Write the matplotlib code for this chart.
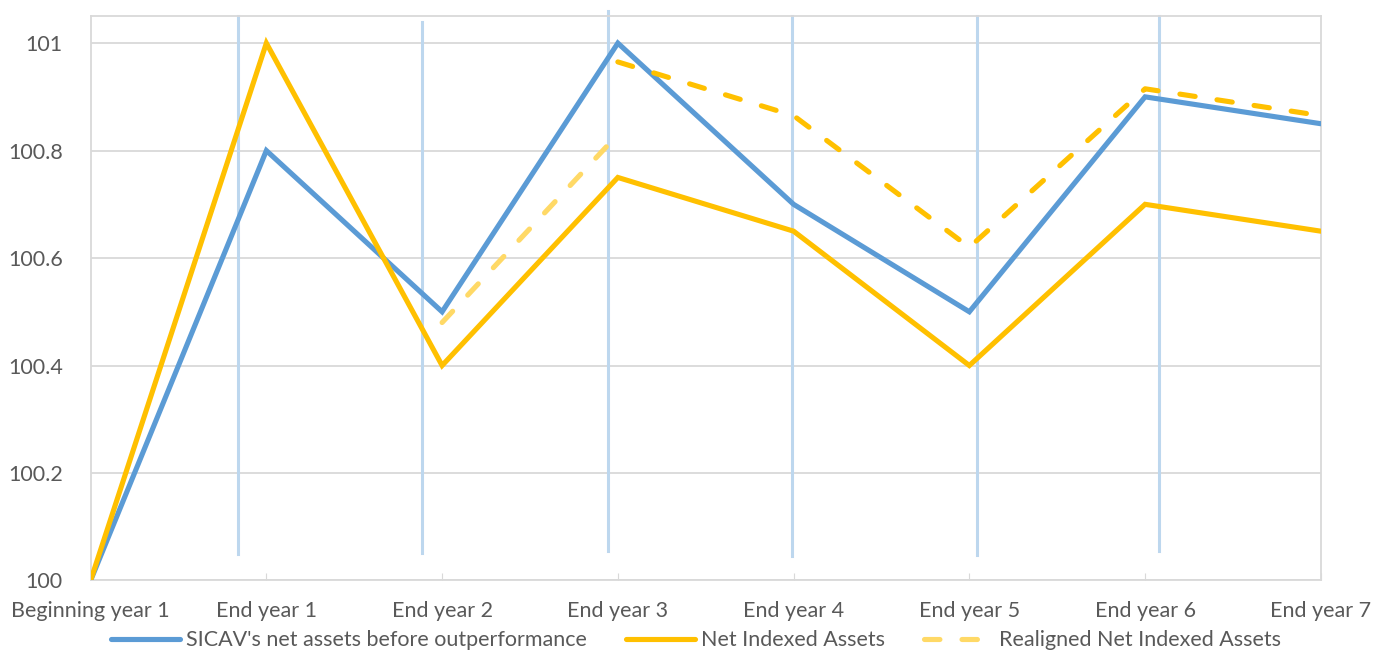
import matplotlib.pyplot as plt
import numpy as np

categories = ["Beginning year 1", "End year 1", "End year 2", "End year 3",
              "End year 4", "End year 5", "End year 6", "End year 7"]
sicav = [100, 100.8, 100.5, 101, 100.7, 100.5, 100.9, 100.85]
net_indexed = [100, 101, 100.4, 100.75, 100.65, 100.4, 100.7, 100.65]
# light dashed: realignment between end year 2 and end year 3
realigned = [np.nan, np.nan, 100.48, 100.83, np.nan, np.nan, np.nan, np.nan]
# darker dashed segment (no legend entry)
realigned_after = [np.nan, np.nan, np.nan, 100.965, 100.865, 100.62, 100.915, 100.865]
# hand drawn vertical markers (category units, bottom, top)
markers_x = [0.84, 1.885, 2.945, 3.993, 5.041, 6.077]
markers_lo = [100.05, 100.052, 100.055, 100.045, 100.048, 100.055]
markers_hi = [101.05, 101.04, 101.06, 101.05, 101.05, 101.05]

plt.rcParams['font.family'] = ['Lato', 'DejaVu Sans']

fig = plt.figure(figsize=(13.73, 6.5), dpi=100)
ax = fig.add_axes([0.066, 0.107, 0.896, 0.868])

x = np.arange(len(categories))
ax.plot(x, sicav, color='#5b9bd5', lw=3.7, solid_capstyle='round', solid_joinstyle='miter',
        label="SICAV's net assets before outperformance", zorder=3)
ax.plot(x, net_indexed, color='#ffc000', lw=3.7, solid_capstyle='round', solid_joinstyle='miter',
        label="Net Indexed Assets", zorder=4)
ax.plot(x, realigned, color='#ffd966', lw=3.7, dashes=(3, 4.3), dash_capstyle='round',
        label="Realigned Net Indexed Assets", zorder=4)
ax.plot(x, realigned_after, color='#ffc000', lw=3.7, dashes=(3, 4.3), dash_capstyle='round',
        zorder=4)

for mx, lo, hi in zip(markers_x, markers_lo, markers_hi):
    ax.plot([mx, mx], [lo, hi], color='#bdd7ee', lw=2.2, zorder=2, clip_on=False)

ax.set_xlim(0, 7)
ax.set_ylim(100, 101.05)
ax.set_yticks([100, 100.2, 100.4, 100.6, 100.8, 101])
ax.set_yticklabels(['100', '100.2', '100.4', '100.6', '100.8', '101'])
ax.set_xticks(x)
ax.set_xticklabels(categories)
ax.grid(axis='y', color='#d9d9d9', lw=1.3)
ax.set_axisbelow(True)
for s in ax.spines.values():
    s.set_color('#d9d9d9')
    s.set_linewidth(1.3)
ax.tick_params(axis='y', length=0, pad=20, labelsize=15.5, labelcolor='#595959')
ax.tick_params(axis='x', length=5, direction='in', color='#d9d9d9', pad=15,
               labelsize=15.5, labelcolor='#595959')

leg = ax.legend(loc='center', bbox_to_anchor=(0.492, -0.106), ncol=3, frameon=False,
                fontsize=15.5, labelcolor='#595959', handlelength=3.2, handletextpad=0.3,
                columnspacing=1.8, borderpad=0)

fig.savefig('out.png', dpi=100)
